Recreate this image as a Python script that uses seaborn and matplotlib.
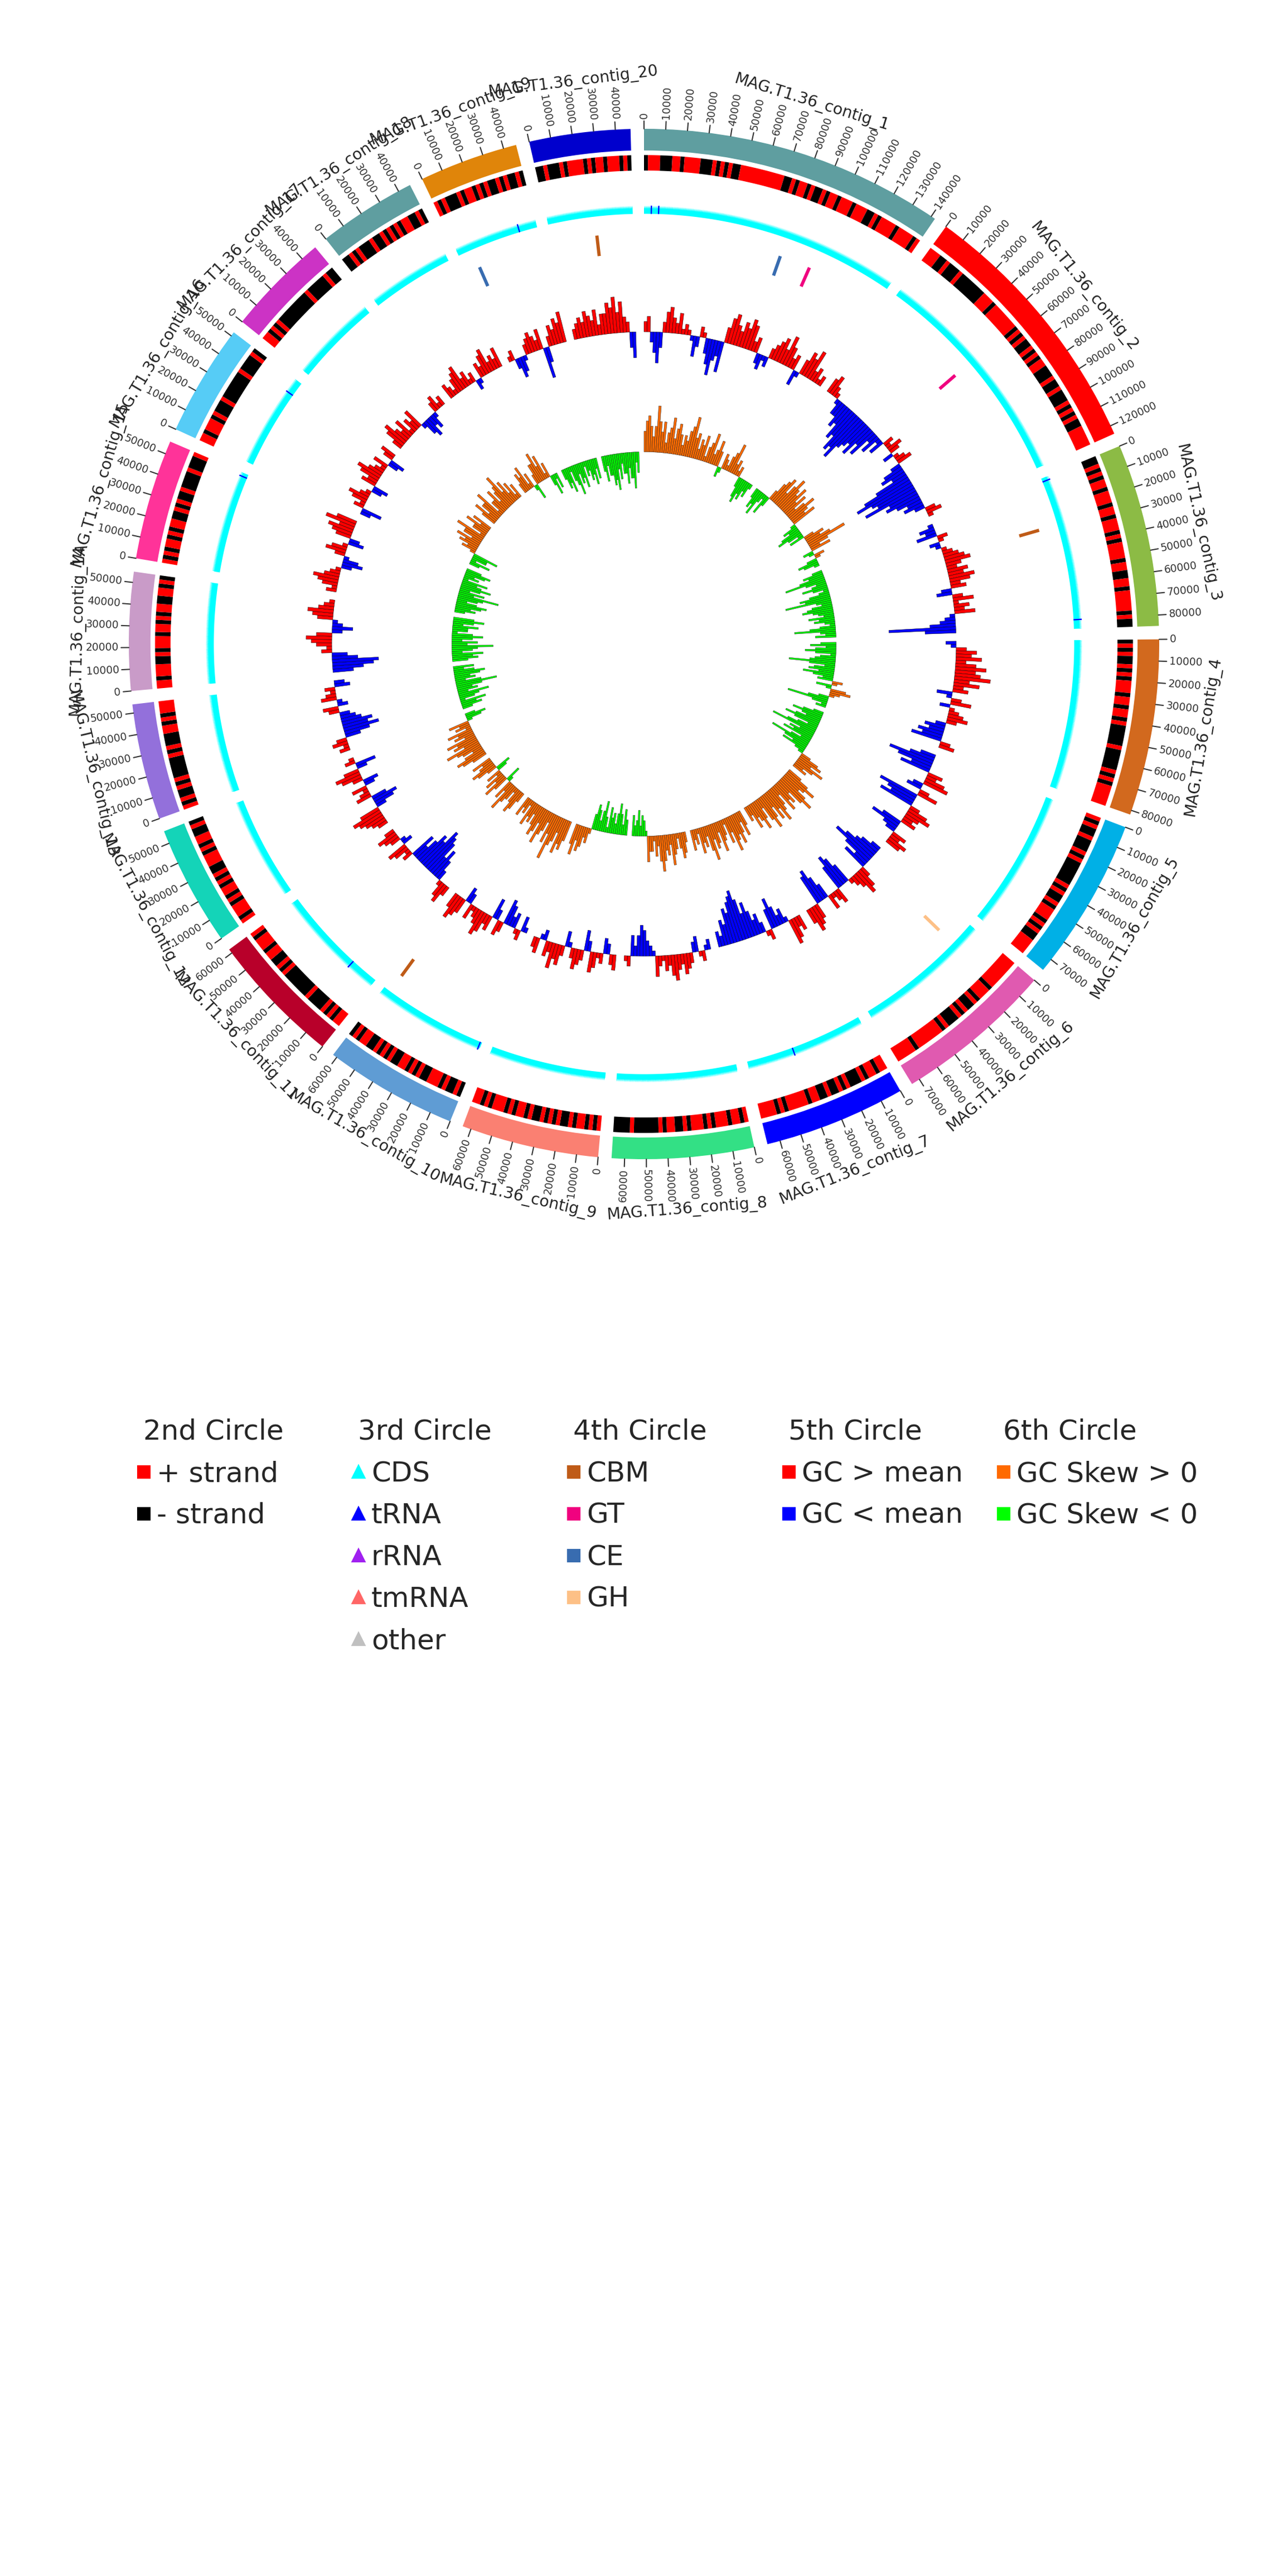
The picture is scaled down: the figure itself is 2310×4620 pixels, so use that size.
import itertools
import numpy as np
import matplotlib
matplotlib.use("Agg")
import matplotlib.pyplot as plt
from matplotlib.lines import Line2D
import seaborn as sns

sns.set_style("white")
plt.rcParams["font.family"] = ["DejaVu Sans"]

# contigs (clockwise from top)
contig_names = [f"MAG.T1.36_contig_{i}" for i in range(1, 21)]
contig_lengths = [142000, 124000, 85000, 82000, 76000, 74000, 66000, 66000, 64000, 62000,
                  62000, 56000, 54000, 55000, 56000, 52000, 48000, 46000, 46000, 47000]
contig_colors = ["#5f9ea0", "#ff0000", "#8cbb45", "#d2691e", "#00b0e6", "#e05ab0", "#0000ff",
                 "#33e085", "#fa8072", "#5f9cd4", "#b8002a", "#14d4b8", "#9370db", "#c99bc8",
                 "#ff3399", "#56ccf6", "#cc33c5", "#5f9ea0", "#e0850a", "#0000cd"]

# 2nd circle: strand of genes, 2 kb blocks ('+' / '-')
strand_1 = "-+++---++-++++---+-+-+--+++++++++++--+-++-+--+-++-+++-+++--+-++++-++++-+"
strand_2 = "+++--+---+-------+++-+++++++-+-+--+-+-++---+--+---+-+-+--+++++"
strand_3 = "--+-+-++-+++-++-+++-+-++++-++--++-+++++-+--"
strand_4 = "-+-+--+-+-+++-++-++-+-----+-----+-+-+++++"
strand_5 = "+-+--+---+-+------+-+--+-+++-+-+--++++"
strand_6 = "++++++++-+++-+--+-+---+-+++++++-+++++"
strand_7 = "++-++-+---+-+--+--++-+++++-+-++++"
strand_8 = "+-++-+++-+-+++-+--++-+------+----"
strand_9 = "+-+-++-+--+-+-+--+-++-+-+++-+-++"
strand_10 = "-+--+-+++--+-+-++--+-+-+--++-+-"
strand_11 = "++-+-+----+-------+-+--++-+++-+"
strand_12 = "+-+++-+-++-+-+--+++-+-++--+-"
strand_13 = "+-+--+-+-----+-+---++-+-+++"
strand_14 = "++-+++--+-+++-++-+-++--++-+-"
strand_15 = "+-+-++-+-++--+-+--+----+---+"
strand_16 = "++-+++-+---+-------+----+-"
strand_17 = "++-+-+---------+-----+--"
strand_18 = "--+-+---+--+-+-+-++--+-"
strand_19 = "+-+---+-++-+-+--+-+--+-"
strand_20 = "--+---+-++++-+-++-+++-+-"

# 3rd circle: non-CDS RNA genes (contig number, position)
trna_contig = [1, 1, 3, 3, 7, 10, 11, 15, 16, 19]
trna_pos = [4000, 8000, 2000, 80000, 40000, 1000, 16000, 54000, 44000, 36000]

# 4th circle: CAZy genes
cazy_class = ["CBM", "CBM", "CBM", "GT", "GT", "CE", "CE", "GH"]
cazy_contig = [20, 3, 10, 1, 2, 19, 1, 6]
cazy_pos = [26000, 27000, 58000, 98000, 55000, 8000, 80000, 14000]

# 5th circle: GC content minus mean (%), 2.5 kb windows
gc_1 = [2, 3, -2, -4, -6, -3, 2, 4, 5, 3, 2, 4, 1, 2, 1, -1, -4, -2, 2, 1, -3, -5, -7, -4, -3,
        -6, 3, 5, 6, 4, 3, 5, 4, 6, 5, 2, 3, -2, -3, -1, -2, 2, 3, 4, 5, 3, 6, 4, 2, 3, -3, -1,
        3, 5, 4, 6, 2, 3, 1, 2]
gc_2 = [3, 4, 2, 1, -1, -3, -3, -5, -4, -7, -6, -9, -8, -10, -7, -6, -5, -7, -4, -6, -2, -4,
        -1, -3, 2, 1, 3, 2, -2, 1, 2, 3, -2, -4, -5, -3, -7, -10, -12, -9, -8, -11, -6, -7, -5,
        -3, -4, -2, 2, 3, 1]
gc_3 = [-1, -3, -2, -4, 2, 1, -2, -1, 1, 2, 3, 4, 5, 3, 2, 4, 3, 5, 4, 2, 3, -2, -3, 2, 4, 1,
        3, 2, 4, -1, -2, -3, -5, -13, -6]
gc_4 = [-2, -1, 2, 4, 3, 5, 2, 4, 6, 4, 5, 7, 3, 5, 2, 3, -3, -1, 2, 4, -2, 1, 2, 3, 4, 2, -2,
        -4, -3, -5, -4, -6, 2, 3]
gc_5 = [-3, -5, -9, -7, -4, -6, 3, 2, 4, 5, -2, -3, 2, 4, -8, -6, -5, -7, 2, 4, 5, 3, 2, 3, -4,
        -6, -3, -2, 3, 2, 4, 3]
gc_6 = [-2, -4, -5, -7, -9, -6, -3, -5, 2, 4, 5, 3, 2, 1, -4, -6, -7, -5, 3, 2, 1, 3, -3, -5,
        -7, -6, 3, 4, 5, 3]
gc_7 = [3, 2, 4, 5, -1, -3, -2, -4, -6, -4, 2, 1, -2, -4, -3, -5, -7, -5, -8, -10, -9, -8, -6,
        -7, -4, -5, -2, -3]
gc_8 = [-2, -1, 2, 1, -3, -2, 2, 3, 4, 2, 3, 5, 4, 2, 3, 1, 2, 4, -1, -2, -3, -5, -6, -4, -2,
        -4, 2, 1]
gc_9 = [3, 2, -2, -3, 2, 1, 3, 4, -2, -4, 2, 3, 4, 2, -1, -3, 2, 4, 3, 5, 2, 3, -2, -1, 3, 2]
gc_10 = [-1, -3, 2, 1, -3, -2, -4, -5, 2, 3, -2, -4, 3, 2, 4, 5, 3, 2, 1, 3, -2, -3, 3, 4, 5, 3]
gc_11 = [2, 4, 3, 1, -2, -4, -6, -4, -7, -8, -9, -6, -7, -5, -3, -5, 2, 1, 3, 4, -2, -1, 2, 3,
         4, 2]
gc_12 = [2, 3, 4, 5, 6, 4, -2, -4, -5, -3, 3, 2, 1, 3, -2, -3, 2, 4, 5, 3, -2, -4, 2, 1]
gc_13 = [2, 1, 3, 2, -3, -5, -7, -5, -6, -4, -3, -2, 2, 3, -2, -1, 3, 2, 1, 2, -3, -2]
gc_14 = [-4, -6, -8, -9, -5, -3, 2, 1, 3, 4, 5, 3, -2, -4, -2, -1, 3, 4, 5, 3, 2, 1]
gc_15 = [2, 1, 3, 4, 5, 3, 2, 1, -2, -4, -3, -1, 2, 4, 3, 1, -3, -2, 3, 4, 5, 3, 6, 4]
gc_16 = [-2, -4, 2, 1, 3, 4, 2, 1, -2, -3, 3, 2, 4, 5, 3, 2, 1, 3, -2, -3, 2, 3]
gc_17 = [2, 4, 5, 3, 2, 4, 1, 3, 2, 4, -1, -3, -4, -2, -3, -1, 2, 3, 1, 2]
gc_18 = [3, 2, 1, 3, 4, 5, 2, 3, 1, 2, -2, -1, 3, 2, 4, 5, 2, 3, 2, 4]
gc_19 = [1, 2, -2, -4, -3, -1, 2, 3, 4, 3, 2, 4, -6, -3, 2, 4, 3, 5, 4, 6]
gc_20 = [2, 3, 4, 3, 5, 4, 3, 5, 2, 4, 4, 6, 5, 7, 4, 6, 3, 2, -3, -5]

# 6th circle: GC skew (x100), 2.5 kb windows
skew_1 = [4, 6, 7, 5, 3, 5, 9, 6, 4, 6, 2, 4, 5, 7, 3, 5, 6, 4, 2, 4, 3, 5, 6, 8, 4, 5, 2, 4, 3,
          5, 1, 3, 4, 6, 2, 3, 5, 3, -2, -1, 3, 2, 1, 3, 4, 6, 2, 3, 1, 2, -2, -4, -5, -3, -4,
          -2, -3, -1]
skew_2 = [-2, -4, -3, -5, -2, -1, -4, -2, 2, 4, 5, 6, 3, 5, 7, 5, 4, 6, 3, 5, 2, 4, 6, 4, 3, 5,
          -1, -3, -2, -4, -5, -3, -1, -3, 2, 4, 3, 5, 8, 4, 2, 4, -2, -1, 2, 1, -2, -4, -3, -1]
skew_3 = [-2, -4, -3, -5, -8, -4, -2, -3, -5, -3, -1, -2, -4, -6, -5, -9, -3, -2, -4, -5, -6,
          -4, -3, -2, -5, -3, -4, -2, -1, -3, -5, -8, -3, -2, -4]
skew_4 = [-3, -5, -2, -4, -6, -4, -1, -3, -4, -5, -9, -5, -2, -4, -5, -3, -6, -4, -2, -3, 2, 1,
          -3, -1, 3, 4, 2, 1, -2, -4, -8, -3, -1, -2]
skew_5 = [-2, -4, -6, -4, -3, -5, -7, -5, -2, -4, -6, -9, -3, -5, -4, -6, -2, -4, -8, -5, -3,
          -5, -2, -1, 2, 4, 5, 3, 6, 4, 2, 3]
skew_6 = [3, 5, 7, 5, 4, 6, 8, 6, 3, 5, 4, 6, 2, 4, 5, 7, 4, 6, 3, 5, 7, 5, 2, 4, 6, 4, 3, 5, 2, 3]
skew_7 = [3, 5, 2, 4, 6, 4, 5, 7, 3, 5, 1, 3, 4, 6, 2, 4, 5, 3, 7, 5, 2, 4, 3, 5, 1, 3, 2, 4]
skew_8 = [2, 4, 5, 3, 1, 3, 4, 6, 2, 4, 3, 5, 7, 5, 2, 4, 1, 3, 3, 5, -1, -3, -4, -2, -5, -3,
          -2, -4]
skew_9 = [-3, -5, -2, -4, -6, -4, -2, -4, -3, -5, -1, -3, -6, -4, -2, -4, -5, -3, 1, 3, 2, 4, 5,
          3, 6, 4]
skew_10 = [4, 6, 5, 7, 3, 5, 6, 9, 4, 6, 2, 4, 5, 7, 3, 5, 6, 4, 2, 4, 3, 5, 1, 3, 2, 4]
skew_11 = [2, 4, 5, 3, 1, 3, 4, 6, 2, 4, -1, -3, 3, 5, 2, 4, 1, 3, -2, -3, 2, 4, 5, 3, 2, 4]
skew_12 = [3, 5, 6, 4, 2, 4, 5, 7, 3, 5, 4, 6, 2, 4, 3, 5, 1, 3, 2, 4, -1, -3, -4, -2]
skew_13 = [-2, -4, -3, -5, -1, -3, -4, -6, -2, -4, -3, -5, -8, -5, -2, -4, -3, -5, -6, -4, -2,
           -4]
skew_14 = [-3, -5, -4, -6, -2, -4, -5, -8, -3, -5, -2, -4, -6, -4, -1, -3, -3, -5, -2, -4, -6,
           -4]
skew_15 = [-2, -4, -3, -5, -6, -4, -2, -4, -5, -8, -3, -5, -2, -4, -6, -4, -3, -5, -1, -3, -2,
           -4, -5, -3]
skew_16 = [-2, -4, -1, -3, -3, -5, 1, 3, 2, 4, 3, 5, 2, 4, 4, 6, 1, 3, 3, 5, 2, 4]
skew_17 = [3, 5, 2, 4, 4, 6, 1, 3, 3, 5, 2, 4, 5, 7, 3, 5, 2, 4, 1, 3]
skew_18 = [2, 4, 3, 5, 1, 3, -1, -3, 2, 4, 4, 6, 3, 5, 1, 3, -2, -4, -1, -3]
skew_19 = [-2, -4, -3, -5, -1, -3, -4, -6, -2, -4, -3, -5, -1, -3, -2, -4, -3, -5, -2, -4]
skew_20 = [-3, -5, -2, -4, -4, -6, -5, -7, -3, -5, -2, -4, -4, -6, -3, -5, -5, -7, -2, -4]

strands = [strand_1, strand_2, strand_3, strand_4, strand_5, strand_6, strand_7, strand_8,
           strand_9, strand_10, strand_11, strand_12, strand_13, strand_14, strand_15,
           strand_16, strand_17, strand_18, strand_19, strand_20]
gc_tracks = [gc_1, gc_2, gc_3, gc_4, gc_5, gc_6, gc_7, gc_8, gc_9, gc_10, gc_11, gc_12,
             gc_13, gc_14, gc_15, gc_16, gc_17, gc_18, gc_19, gc_20]
skew_tracks = [skew_1, skew_2, skew_3, skew_4, skew_5, skew_6, skew_7, skew_8, skew_9,
               skew_10, skew_11, skew_12, skew_13, skew_14, skew_15, skew_16, skew_17,
               skew_18, skew_19, skew_20]

cazy_colors = {"CBM": "#bf5b17", "GT": "#f0027f", "CE": "#386cb0", "GH": "#fdc086"}

# layout of the circle
GAP = np.deg2rad(1.5)
total = sum(contig_lengths)
span = 2 * np.pi - GAP * len(contig_lengths)
starts = []
a = 0.0
for L in contig_lengths:
    starts.append(a)
    a += L / total * span + GAP


def ang(i, pos):
    return starts[i] + pos / total * span


def wid(bp):
    return bp / total * span


fig = plt.figure(figsize=(7.7, 15.4), dpi=300)
ax = fig.add_axes([0, 0.5, 1, 0.5], projection="polar")
ax.set_theta_zero_location("N")
ax.set_theta_direction(-1)
ax.set_ylim(0, 125)
ax.axis("off")

for i, L in enumerate(contig_lengths):
    # ideogram
    ax.bar(ang(i, L / 2), 4.2, width=wid(L), bottom=95.8, color=contig_colors[i], lw=0)

    # ticks every 10 kb
    for p in range(0, L + 1, 10000):
        t = ang(i, p)
        ax.plot([t, t], [100, 101.5], color="#333333", lw=0.5)
        deg = np.rad2deg(t) % 360
        if deg <= 180:
            rot, ha = 90 - deg, "left"
        else:
            rot, ha = 270 - deg, "right"
        ax.text(t, 102.0, str(p), fontsize=4.5, rotation=rot, ha=ha, va="center",
                rotation_mode="anchor", color="#333333")

    # contig label
    mid = np.rad2deg(ang(i, L / 2)) % 360
    rot = -mid if (mid <= 90 or mid >= 270) else 180 - mid
    ax.text(ang(i, L / 2), 110, contig_names[i], fontsize=6.8, rotation=rot,
            ha="center", va="center", rotation_mode="anchor", color="#222222")

    # 2nd circle: strand
    s = strands[i]
    w = L / len(s)
    k = 0
    for ch, grp in itertools.groupby(s):
        n = len(list(grp))
        ax.bar(ang(i, (k + n / 2) * w), 3.0, width=wid(n * w), bottom=91.9,
               color="#ff0000" if ch == "+" else "#000000", lw=0)
        k += n

    # 3rd circle: CDS as saw-toothed arrows
    th, rr = [], []
    step = w / 3
    for j in range(3 * len(s)):
        th += [ang(i, j * step), ang(i, (j + 0.85) * step)]
        rr += [84.5, 85.1]
    th.append(ang(i, L))
    rr.append(84.5)
    back = np.linspace(ang(i, L), ang(i, 0), 80)
    th += list(back)
    rr += [83.5] * len(back)
    ax.fill(th, rr, color="#00ffff", lw=0)

    # 5th circle: GC content
    g = gc_tracks[i]
    w = L / len(g)
    for j, v in enumerate(g):
        ax.bar(ang(i, (j + 0.5) * w), v, width=wid(w), bottom=60.6,
               color="#ff0000" if v > 0 else "#0000ff", edgecolor="black", lw=0.12)

    # 6th circle: GC skew
    g = skew_tracks[i]
    w = L / len(g)
    for j, v in enumerate(g):
        ax.bar(ang(i, (j + 0.5) * w), v, width=wid(w), bottom=37.3,
               color="#ff6a00" if v > 0 else "#00ff00", edgecolor="#1a1a1a", lw=0.12)

for c, p in zip(trna_contig, trna_pos):
    ax.bar(ang(c - 1, p), 1.6, width=wid(700), bottom=83.5, color="#0000ff", lw=0)

for cl, c, p in zip(cazy_class, cazy_contig, cazy_pos):
    t = ang(c - 1, p)
    ax.plot([t, t], [75.8, 79.8], color=cazy_colors[cl], lw=1.4, solid_capstyle="butt")

# legends: one column per circle, title drawn above the entries
legend_titles = ["2nd Circle", "3rd Circle", "4th Circle", "5th Circle", "6th Circle"]
legend_labels = [["+ strand", "- strand"],
                 ["CDS", "tRNA", "rRNA", "tmRNA", "other"],
                 ["CBM", "GT", "CE", "GH"],
                 ["GC > mean", "GC < mean"],
                 ["GC Skew > 0", "GC Skew < 0"]]
legend_colors = [["#ff0000", "#000000"],
                 ["#00ffff", "#0000ff", "#a020f0", "#ff6666", "#c0c0c0"],
                 ["#bf5b17", "#f0027f", "#386cb0", "#fdc086"],
                 ["#ff0000", "#0000ff"],
                 ["#ff6a00", "#00ff00"]]
legend_markers = ["s", "^", "s", "s", "s"]
legend_x = [246, 631, 1017, 1403, 1788]

W, H = 2310, 4620
for title, labels, cols, mk, x in zip(legend_titles, legend_labels, legend_colors,
                                       legend_markers, legend_x):
    fig.text((x + 11) / W, 1 - 2582 / H, title, fontsize=12, ha="left", va="baseline")
    handles = [Line2D([], [], lw=0, marker=mk, markersize=4.6, color=c, label=l)
               for l, c in zip(labels, cols)]
    fig.legend(handles=handles, loc="upper left", bbox_to_anchor=(x / W, 1 - 2619 / H),
               frameon=False, fontsize=12, borderpad=0, borderaxespad=0,
               handlelength=0.46, handletextpad=0.24, labelspacing=0.54)

fig.savefig("out.png", dpi=300)
